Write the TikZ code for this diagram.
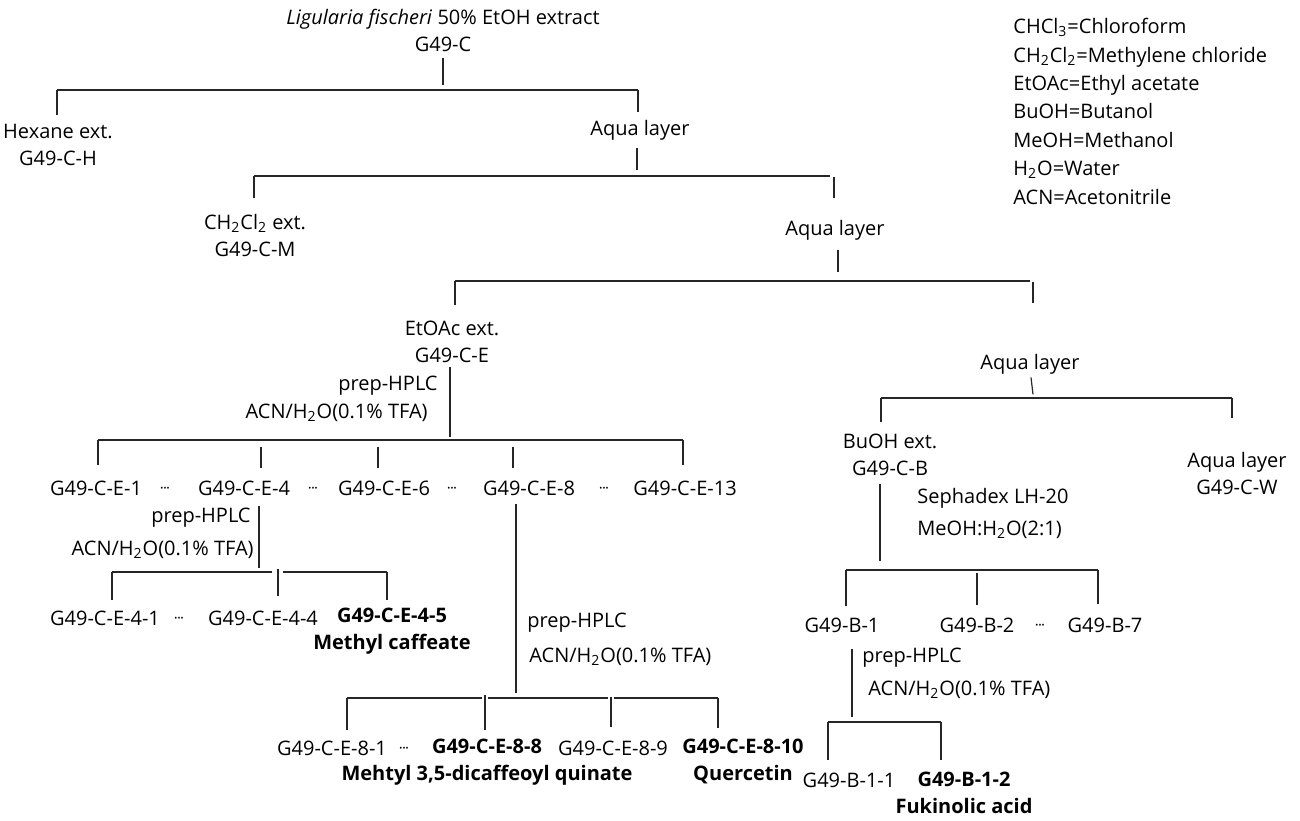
\documentclass[tikz,border=0pt]{standalone}
\usepackage{fontspec}
\setmainfont{Open Sans}
\usetikzlibrary{positioning,calc}

\newcommand{\low}[1]{\textsubscript{#1}}
\newcommand{\midd}{{\fontsize{7.5}{7.5}\selectfont·\kern-0.4pt·\kern-0.4pt·}}

\begin{document}
\begin{tikzpicture}[
    x=0.5pt, y=-0.5pt,
    font=\fontsize{10}{13.5}\selectfont,
    txt/.style={align=center, inner sep=1pt},
    cpd/.style={txt, font=\fontsize{10}{13.5}\selectfont\bfseries},
    cond/.style={inner sep=1pt},
    line/.style={line width=0.6pt, draw=black!85}
]
\useasboundingbox (0,0) rectangle (1300,820);

% --- Legend ---
\node[anchor=north west, align=left, inner sep=0pt,
      font=\fontsize{10}{14.2}\selectfont] (legend) at (1013,18)
    {CHCl\low{3}=Chloroform\\ CH\low{2}Cl\low{2}=Methylene chloride\\
     EtOAc=Ethyl acetate\\ BuOH=Butanol\\ MeOH=Methanol\\
     H\low{2}O=Water\\ ACN=Acetonitrile};

% --- Crude extract ---
\node[txt] (root) at (443,30) {\textit{Ligularia fischeri} 50\% EtOH extract\\G49-C};
\node[txt] (hex) at (58,145) {Hexane ext.\\G49-C-H};
\node[txt] (aq1) at (640,130) {Aqua layer};
\coordinate (k1l) at (57,90);
\coordinate (k1r) at (638,90);
\draw[line] (root.south) ++(0,4) -- ++(0,27);
\draw[line] (k1l) -- (k1r);
\draw[line] (k1l) -- ++(0,25);
\draw[line] (k1r) -- ++(0,22);

% --- CH2Cl2 partition ---
\node[txt] (dcm) at (255,235) {CH\low{2}Cl\low{2} ext.\\G49-C-M};
\node[txt] (aq2) at (835,230) {Aqua layer};
\coordinate (k2l) at (254,176);
\coordinate (k2r) at (830,176);
\draw[line] (aq1.south) ++(-3,6) -- ++(0,22);
\draw[line] (k2l) -- (k2r);
\draw[line] (k2l) -- ++(0,22);
\draw[line] (k2r) ++(4,1) -- ++(0,21);

% --- EtOAc partition ---
\node[txt] (eto) at (452,342) {EtOAc ext.\\G49-C-E};
\node[txt] (aq3) at (1030,364) {Aqua layer};
\coordinate (k3l) at (455,281);
\coordinate (k3r) at (1030,281);
\draw[line] (aq2.south) ++(3,8) -- ++(0,22);
\draw[line] (k3l) -- (k3r);
\draw[line] (k3l) -- ++(0,24);
\draw[line] (k3r) ++(3,1) -- ++(0,21);

% --- EtOAc fractions ---
\draw[line] (eto.south) ++(-2,2) -- ++(0,70);
\node[cond, anchor=east] (hp1) at (440,386) {prep-HPLC};
\node[cond, anchor=east] (ac1) at (430,413) {ACN/H\low{2}O(0.1\% TFA)};
\coordinate (k4l) at (98,440);
\coordinate (k4r) at (683,440);
\draw[line] (k4l) -- (k4r);
\draw[line] (k4l) -- ++(0,25);
\draw[line] (k4r) -- ++(0,25);
\foreach \dx in {163,280,415}
    \draw[line] (k4l) ++(\dx,7) -- ++(0,21);

\node[txt] (e1) at (96,488) {G49-C-E-1};
\node[txt] (d1) at (165,490) {\midd};
\node[txt] (e4) at (244,488) {G49-C-E-4};
\node[txt] (d2) at (313,490) {\midd};
\node[txt] (e6) at (384,488) {G49-C-E-6};
\node[txt] (d3) at (452,490) {\midd};
\node[txt] (e8) at (529,488) {G49-C-E-8};
\node[txt] (d4) at (604,490) {\midd};
\node[txt] (e13) at (685,488) {G49-C-E-13};

% --- G49-C-E-4 ---
\draw[line] (e4.south) ++(15,8) -- ++(0,62);
\node[cond, anchor=east] (hp2) at (253,518) {prep-HPLC};
\node[cond, anchor=east] (ac2) at (256,550) {ACN/H\low{2}O(0.1\% TFA)};
\coordinate (k5l) at (112,572);
\coordinate (k5m) at (278,572);
\coordinate (k5r) at (387,572);
\draw[line] (k5l) -- ($(k5m)+(-6,0)$);
\draw[line] ($(k5m)+(5,0)$) -- (k5r);
\draw[line] (k5l) -- ++(0,28);
\draw[line] (k5m) ++(0,-3) -- ++(0,27);
\draw[line] (k5r) -- ++(0,28);

\node[txt] (e41) at (105,618) {G49-C-E-4-1};
\node[txt] (d5) at (179,620) {\midd};
\node[txt] (e44) at (263,618) {G49-C-E-4-4};
\node[cpd] (e45) at (392,631) {G49-C-E-4-5\\Methyl caffeate};

% --- G49-C-E-8 ---
\draw[line] (e8.south) ++(-13,6) -- ++(0,189);
\node[cond, anchor=west] (hp3) at (525,623) {prep-HPLC};
\node[cond, anchor=west] (ac3) at (527,657) {ACN/H\low{2}O(0.1\% TFA)};
\coordinate (k6l) at (347,698);
\coordinate (k6a) at (485,698);
\coordinate (k6b) at (611,698);
\coordinate (k6r) at (718,698);
\draw[line] (k6l) -- ($(k6a)+(-3,0)$);
\draw[line] ($(k6a)+(3,0)$) -- ($(k6b)+(-3,0)$);
\draw[line] ($(k6b)+(3,0)$) -- (k6r);
\draw[line] (k6l) -- ++(0,32);
\draw[line] (k6a) ++(0,-3) -- ++(0,35);
\draw[line] (k6b) ++(0,-1) -- ++(0,30);
\draw[line] (k6r) -- ++(0,30);

\node[txt] (e81) at (332,748) {G49-C-E-8-1};
\node[txt] (d6) at (404,750) {\midd};
\node[cpd] (e88) at (487,762) {G49-C-E-8-8\\Mehtyl 3,5-dicaffeoyl quinate};
\node[txt] (e89) at (613,748) {G49-C-E-8-9};
\node[cpd] (e810) at (743,761) {G49-C-E-8-10\\Quercetin};

% --- BuOH partition ---
\draw[line] (aq3.south) ++(1,1) -- ++(2,17);
\coordinate (k7l) at (881,398);
\coordinate (k7r) at (1232,398);
\draw[line] (k7l) -- (k7r);
\draw[line] (k7l) -- ++(0,24);
\draw[line] (k7r) -- ++(0,20);
\node[txt] (buoh) at (890,455) {BuOH ext.\\G49-C-B};
\node[txt] (aqw) at (1237,473) {Aqua layer\\G49-C-W};

% --- Sephadex ---
\draw[line] (buoh.south) ++(-10,6) -- ++(0,77);
\node[cond, anchor=west] (sep) at (915,498) {Sephadex LH-20};
\node[cond, anchor=west] (meo) at (915,530) {MeOH:H\low{2}O(2:1)};
\coordinate (k8l) at (846,570);
\coordinate (k8m) at (977,570);
\coordinate (k8r) at (1098,570);
\draw[line] (k8l) -- (k8r);
\draw[line] (k8l) -- ++(0,36);
\draw[line] (k8m) ++(0,3) -- ++(0,32);
\draw[line] (k8r) -- ++(0,34);

\node[txt] (b1) at (842,625) {G49-B-1};
\node[txt] (b2) at (977,625) {G49-B-2};
\node[txt] (d7) at (1040,627) {\midd};
\node[txt] (b7) at (1105,625) {G49-B-7};

% --- G49-B-1 ---
\draw[line] (b1.south) ++(10,14) -- ++(0,68);
\node[cond, anchor=west] (hp4) at (860,658) {prep-HPLC};
\node[cond, anchor=west] (ac4) at (866,690) {ACN/H\low{2}O(0.1\% TFA)};
\coordinate (k9l) at (828,722);
\coordinate (k9r) at (941,722);
\draw[line] (k9l) -- (k9r);
\draw[line] (k9l) -- ++(0,38);
\draw[line] (k9r) -- ++(0,38);

\node[txt] (b11) at (849,780) {G49-B-1-1};
\node[cpd] (b12) at (964,793) {G49-B-1-2\\Fukinolic acid};

\end{tikzpicture}
\end{document}
